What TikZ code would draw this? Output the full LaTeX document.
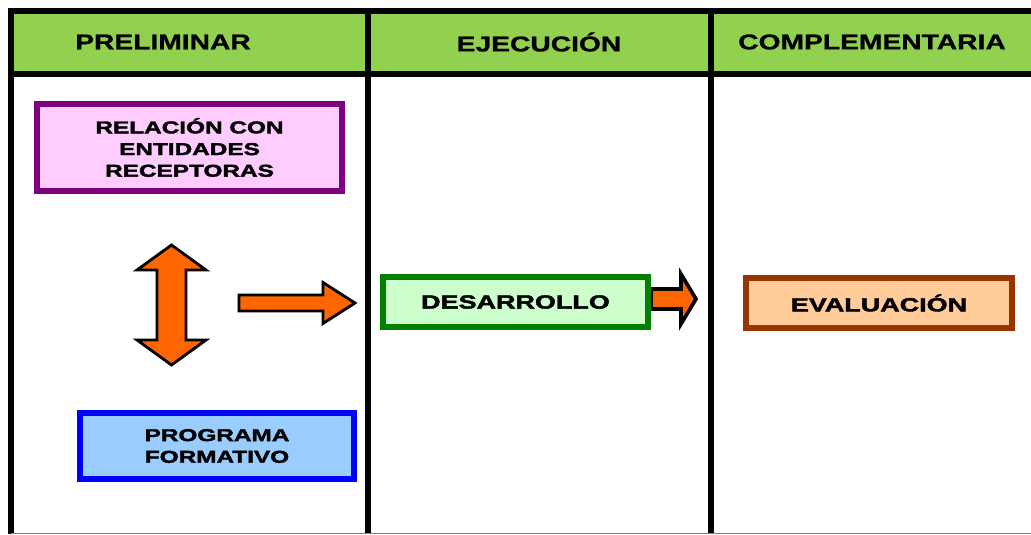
\documentclass[tikz,border=0pt]{standalone}
\usepackage{fontspec}
\setmainfont{Liberation Sans}
\newfontfamily\headfont{Liberation Sans}[FakeStretch=1.32,FakeBold=1]
\newfontfamily\boxfont{Liberation Sans}[FakeStretch=1.42,FakeBold=2.2]
\definecolor{verdecab}{HTML}{92D050}
\definecolor{naranja}{HTML}{FF6600}

\begin{document}
\begin{tikzpicture}[
	x=0.025cm, y=-0.025cm,
	titulo/.style={font=\headfont\bfseries\fontsize{15.2}{18}\selectfont},
	caja/.style={rectangle, line width=4pt, align=center, inner sep=0pt,
	font=\boxfont\bfseries\fontsize{12.2}{15.4}\selectfont},
	linea/.style={draw=black, line width=3.6pt},
	flecha/.style={draw=black, fill=naranja, line width=2pt, line join=miter}
	]

\useasboundingbox (0,0) rectangle (1031,534);

\fill[verdecab] (11,11) rectangle (1031,74);
\draw[linea] (1031,11) -- (11,11) -- (11,534);
\draw[linea] (11,74) -- (1031,74);
\draw[linea] (368,11) -- (368,534);
\draw[linea] (711,11) -- (711,534);
\draw[gray, line width=0.7pt] (11,533) -- (1031,533);

\node[titulo] (preliminar) at (163,42) {PRELIMINAR};
\node[titulo] (ejecucion) at (539,42) {EJECUCIÓN};
\node[titulo] (complementaria) at (872,42) {COMPLEMENTARIA};

\node[caja, draw={rgb,255:red,128;green,0;blue,128}, fill={rgb,255:red,255;green,204;blue,255},
	minimum width=7.625cm, minimum height=2.175cm] (relacion) at (189.5,147.5)
	{RELACIÓN CON\\ENTIDADES\\RECEPTORAS};
\node[caja, draw={rgb,255:red,0;green,0;blue,255}, fill={rgb,255:red,153;green,204;blue,255},
	minimum width=6.85cm, minimum height=1.65cm] (programa) at (217,446)
	{PROGRAMA\\FORMATIVO};

\draw[flecha] (171.5,245) -- (206,270) -- (186,270) -- (186,340) -- (206,340)
	-- (171.5,365) -- (137,340) -- (157,340) -- (157,270) -- (137,270) -- cycle;
\draw[flecha] (239,295) -- (323,295) -- (323,282.5) -- (355,303) -- (323,323.5)
	-- (323,311) -- (239,311) -- cycle;
\draw[flecha, line width=2.6pt] (651,289) -- (681,289) -- (681,274) -- (696,299) -- (681,324)
	-- (681,309) -- (651,309) -- cycle;

\node[caja, draw={rgb,255:red,0;green,128;blue,0}, fill={rgb,255:red,204;green,255;blue,204},
	minimum width=6.625cm, minimum height=1.25cm, font=\boxfont\bfseries\fontsize{13.5}{16}\selectfont]
	(desarrollo) at (515.5,302) {DESARROLLO};
\node[caja, draw={rgb,255:red,153;green,51;blue,0}, fill={rgb,255:red,255;green,204;blue,153},
	minimum width=6.65cm, minimum height=1.25cm, font=\boxfont\bfseries\fontsize{13.5}{16}\selectfont]
	(evaluacion) at (879,303) {EVALUACIÓN};

\end{tikzpicture}
\end{document}
